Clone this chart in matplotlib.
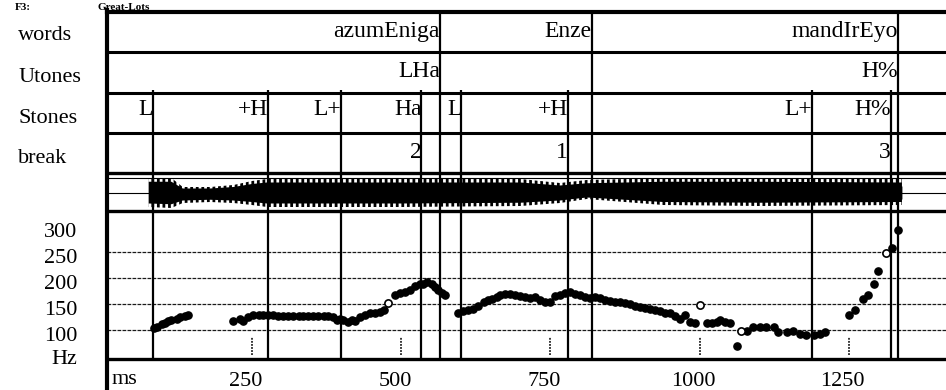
import matplotlib
matplotlib.use("Agg")
import matplotlib.pyplot as plt
from matplotlib.lines import Line2D
from matplotlib.transforms import ScaledTranslation
import numpy as np

# ---------------- data ----------------
row_labels = ["words", "Utones", "Stones", "break"]
word_labels = ["azumEniga", "Enze", "mandIrEyo"]
word_ends = [565, 819, 1333]
utone_labels = ["LHa", "H%"]
utone_ends = [565, 1333]
stone_labels = ["L", "+H", "L+", "Ha", "L", "+H", "L+", "H%"]
stone_times = [84, 277, 399, 534, 601, 779, 1188, 1320]
break_labels = ["2", "1", "3"]
break_times = [534, 779, 1320]

f0_ms = [85, 91, 99, 104, 110, 115, 124, 129, 138, 143,
         219, 230, 235, 244, 252, 261, 269, 277, 286, 294, 302, 311, 319, 328,
         336, 344, 353, 361, 370, 378, 386, 392, 397, 403, 411, 417, 423, 431,
         439, 448, 456, 464, 471, 490, 498, 506, 515, 523, 531, 536, 543, 551,
         557, 562, 568, 573,
         596, 604, 612, 621, 629, 638, 646, 652, 660, 666, 674, 682, 691, 699,
         707, 716, 724, 733, 741, 749, 758, 766, 774, 783, 791, 800, 808, 816,
         825, 833, 841, 850, 858, 867, 875, 883, 892, 900, 908, 917, 925, 934,
         942, 950, 959, 967, 976, 984, 992, 1012, 1020, 1029, 1034, 1043, 1051,
         1062,
         1079, 1090, 1101, 1112, 1124, 1132, 1146, 1157, 1168, 1179, 1191, 1202, 1210,
         1250, 1260, 1273, 1283, 1292, 1299, 1323, 1332]
f0_hz = [103, 106, 111, 114, 117, 119, 121, 124, 127, 128,
         118, 122, 118, 125, 129, 129, 129, 128, 128, 127.5, 127, 127, 127, 127,
         127, 127, 127.5, 127.5, 127.5, 127, 124, 119, 122, 119, 116, 120, 118, 124,
         129, 132, 133, 135, 138, 167, 170, 172, 177, 184, 188, 189, 191, 188,
         183, 177, 170, 167,
         132, 136, 138, 140, 146, 154, 158, 159, 164, 168, 169, 169, 168, 165,
         163, 161, 164, 158, 154, 154, 166, 168, 170, 172, 169, 167, 164, 161,
         163, 161, 158, 156, 154, 154, 152, 150, 146, 145, 143, 140, 138, 136,
         133, 132, 126, 122, 129, 116, 113, 113, 114, 116, 119, 115, 114,
         69,
         99, 106, 106, 106, 105, 97, 97, 99, 92, 90, 90, 92, 97,
         128, 138, 159, 167, 188, 213, 258, 292]
open_ms = [478, 1001, 1070, 1313]
open_hz = [152, 147, 99, 247]

y_ticks = [100, 150, 200, 250, 300]
y_tick_labels = ["100", "150", "200", "250", "300"]
grid_hz = [100, 150, 200, 250]
x_ticks = [250, 500, 750, 1000, 1250]
x_tick_labels = ["250", "500", "750", "1000", "1250"]

wave_ms = [77, 115, 134, 180, 219, 250, 275, 500, 700, 766, 811, 939, 1100, 1339]
wave_hi = [15, 15, 6, 6, 8, 12, 14, 14, 14, 10, 13, 15, 15, 14]
wave_lo = [-14, -15, -10, -9, -10, -12, -14, -14, -13, -10, -6, -12, -13, -12]

# ---------------- layout ----------------
W, H, DPI = 946, 390, 100
plt.rcParams["font.family"] = ["Liberation Serif", "DejaVu Serif"]
plt.rcParams["hatch.linewidth"] = 2.0
FS = 16

def fx(p):
    return p / W

def fy(p):
    return 1 - p / H

fig = plt.figure(figsize=(W / DPI, H / DPI), dpi=DPI)
fig.patch.set_facecolor("white")

LPX, RPX = 107, 962
PX_PER_MS = 0.5968
MS0_PX = 102.8
xlim = ((LPX - MS0_PX) / PX_PER_MS, (RPX - MS0_PX) / PX_PER_MS)
width = (RPX - LPX) / W

TOP, T_BOT, W_BOT, F_BOT = 12, 173, 211, 359
ax_t = fig.add_axes([fx(LPX), fy(T_BOT), width, (T_BOT - TOP) / H])
ax_w = fig.add_axes([fx(LPX), fy(W_BOT), width, (W_BOT - T_BOT) / H])
ax_f = fig.add_axes([fx(LPX), fy(F_BOT), width, (F_BOT - W_BOT) / H])

for ax in (ax_t, ax_w, ax_f):
    ax.set_xlim(*xlim)
    for s in ax.spines.values():
        s.set_visible(False)
    ax.set_facecolor("none")

# ---- tiers ----
ax_t.set_ylim(4, 0)
ax_t.set_xticks([])
ax_t.set_yticks([])
ax_t.axhline(0, color="k", lw=3.0, clip_on=False)
for r in (1, 2, 3):
    ax_t.axhline(r, color="k", lw=2.2, clip_on=False)
ax_t.axhline(4, color="k", lw=2.4, clip_on=False)
for t in word_ends:
    ax_t.axvline(t, color="k", lw=1.6)
ax_t.vlines(stone_times, 1.95, 4, color="k", lw=1.6)

TS = 17
for lab, t in zip(word_labels, word_ends):
    ax_t.text(t, 0.62, lab, ha="right", va="baseline", fontsize=TS)
for lab, t in zip(utone_labels, utone_ends):
    ax_t.text(t, 1.62, lab, ha="right", va="baseline", fontsize=TS)
for lab, t in zip(stone_labels, stone_times):
    ax_t.text(t, 2.57, lab, ha="right", va="baseline", fontsize=TS)
for lab, t in zip(break_labels, break_times):
    ax_t.text(t, 3.62, lab, ha="right", va="baseline", fontsize=TS)

for lab, base in zip(row_labels, [40, 82, 123, 163]):
    fig.text(fx(18), fy(base), lab, ha="left", va="baseline", fontsize=FS)

# ---- waveform ----
ax_w.set_ylim(-18, 20)
ax_w.set_xticks([])
ax_w.set_yticks([])
ax_w.axhline(15, color="k", lw=0.8)
ax_w.axhline(0, color="k", lw=0.8)
hi = np.array(wave_hi, dtype=float)
lo = np.array(wave_lo, dtype=float)
ax_w.fill_between(wave_ms, lo, hi, facecolor="none", edgecolor="k", hatch="|||", lw=0)
ax_w.fill_between(wave_ms, lo * 0.75, hi * 0.75, facecolor="none", edgecolor="k",
                  hatch="||||||", lw=0)
ax_w.fill_between(wave_ms, lo * 0.5, hi * 0.5, color="k", lw=0)
for t in word_ends + stone_times:
    ax_w.axvline(t, color="k", lw=1.6)

# ---- F0 panel ----
ylo = 100 - (F_BOT - 330) / 0.522
yhi = 100 + (330 - W_BOT) / 0.522
ax_f.set_ylim(ylo, yhi)
ax_f.axhline(yhi, color="k", lw=2.4, clip_on=False)
ax_f.axhline(ylo, color="k", lw=2.4, clip_on=False)
for g in grid_hz:
    ax_f.axhline(g, color="#1a1a1a", lw=0.9, ls=(0, (3, 1)))
for t in word_ends + stone_times:
    ax_f.axvline(t, color="k", lw=1.6)
ax_f.vlines(x_ticks, 52, 87, color="k", lw=1.1, linestyles=(0, (1.2, 0.8)))

ax_f.plot(f0_ms, f0_hz, ls="none", marker="o", ms=5.2, color="k", mec="k")
ax_f.plot(open_ms, open_hz, ls="none", marker="o", ms=5.2, mfc="white", mec="k", mew=1.2)

ax_f.set_yticks(y_ticks)
ax_f.set_yticklabels(y_tick_labels, fontsize=FS)
ax_f.tick_params(axis="y", length=0, pad=21.6)
ax_f.set_xticks(x_ticks)
ax_f.set_xticklabels(x_tick_labels, fontsize=FS)
ax_f.tick_params(axis="x", length=0, pad=9.0)
for lab in ax_f.get_yticklabels():
    lab.set_transform(lab.get_transform() + ScaledTranslation(0, -4 / DPI, fig.dpi_scale_trans))
for lab in ax_f.get_xticklabels():
    lab.set_transform(lab.get_transform() + ScaledTranslation(-6 / DPI, 0, fig.dpi_scale_trans))

fig.text(fx(77), fy(360), "Hz", ha="right", va="center", fontsize=FS)
fig.text(fx(112), fy(379), "ms", ha="left", va="center", fontsize=FS)

# left frame line
fig.add_artist(Line2D([fx(107), fx(107)], [fy(10), fy(391)], color="k", lw=3.0,
                      transform=fig.transFigure))

# title (mostly cut off at the top edge in the original; kept small and visible)
fig.text(fx(15), fy(10), "F3:", ha="left", va="baseline", fontsize=8, fontweight="bold")
fig.text(fx(97), fy(10), "Great-Lots", ha="left", va="baseline", fontsize=8, fontweight="bold")

fig.savefig("out.png", dpi=DPI)
